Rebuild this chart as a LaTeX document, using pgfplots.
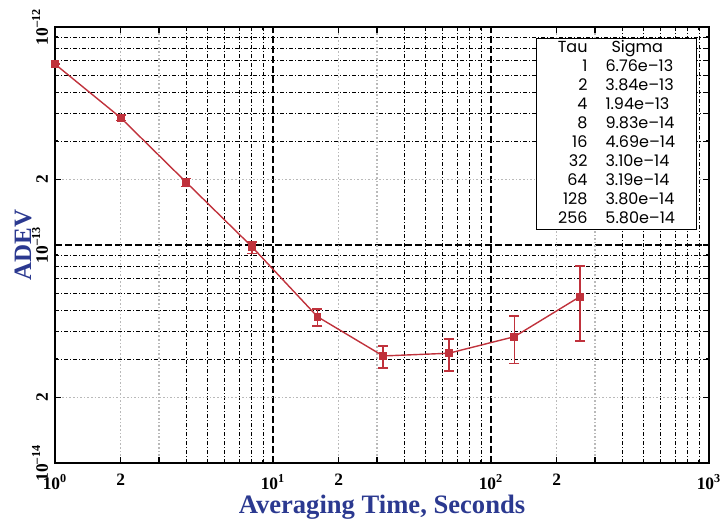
\documentclass[border=0pt]{standalone}
\usepackage{fontspec}
\setmainfont{Liberation Serif}
\newfontfamily\tabfont{Poppins}
\usepackage{pgfplots}
\usepackage{pgfplotstable}
\pgfplotsset{compat=1.18}
\definecolor{adevred}{HTML}{C0323C}
\definecolor{labblue}{HTML}{2B3990}

% tau, sigma, error up, error down
\pgfplotstableread{
tau  sigma     ep        em
1    6.76e-13  0.04e-13  0.04e-13
2    3.84e-13  0.12e-13  0.12e-13
4    1.94e-13  0.08e-13  0.08e-13
8    9.83e-14  0.53e-14  0.70e-14
16   4.69e-14  0.41e-14  0.43e-14
32   3.10e-14  0.34e-14  0.37e-14
64   3.19e-14  0.51e-14  0.55e-14
128  3.80e-14  0.94e-14  0.94e-14
256  5.80e-14  2.24e-14  2.16e-14
}\adev

\begin{document}
\begin{tikzpicture}
\begin{axis}[
  xmode=log, ymode=log,
  scale only axis, width=327pt, height=218pt,
  xmin=1, xmax=1000, ymin=1e-14, ymax=1e-12,
  axis line style={black, line width=0.9pt},
  xtick={1,10,100,1000},
  xticklabels={\textbf{10\textsuperscript{0}},\textbf{10\textsuperscript{1}},\textbf{10\textsuperscript{2}},\textbf{10\textsuperscript{3}}},
  ytick={1e-14,1e-13,1e-12},
  yticklabels={\textbf{10\textsuperscript{–14}},\textbf{10\textsuperscript{–13}},\textbf{10\textsuperscript{–12}}},
  minor xtick={4,5,6,7,8,9,40,50,60,70,80,90,400,500,600,700,800,900},
  minor ytick={3e-14,4e-14,5e-14,6e-14,7e-14,8e-14,9e-14,3e-13,4e-13,5e-13,6e-13,7e-13,8e-13,9e-13},
  extra x ticks={2,3,20,30,200,300},
  extra x tick labels={\textbf{2},,\textbf{2},,\textbf{2},},
  extra y ticks={2e-14,2e-13},
  extra y tick labels={\textbf{2},\textbf{2}},
  extra x tick style={grid=major, major grid style={gray!55, densely dotted, line width=0.7pt}},
  extra y tick style={grid=major, major grid style={gray!55, densely dotted, line width=0.7pt}},
  grid=both,
  major grid style={black, line width=0.8pt, dash pattern=on 3.5pt off 1.5pt},
  minor grid style={black, line width=0.5pt, dash pattern=on 2pt off 1pt on 0.5pt off 1pt},
  tick style={black, line width=0.6pt},
  major tick length=3pt, minor tick length=1.5pt,
  tick label style={font=\fontsize{8.7}{10}\selectfont},
  xticklabel style={yshift=-2pt},
  yticklabel style={rotate=90, anchor=south},
  xlabel={\textbf{Averaging Time, Seconds}},
  ylabel={\textbf{ADEV}},
  xlabel style={font=\fontsize{13.3}{15}\selectfont, text=labblue, at={(axis description cs:0.5,0)}, anchor=base, yshift=-25pt},
  ylabel style={font=\fontsize{12.5}{14}\selectfont, text=labblue, at={(axis description cs:-0.049,0.5)}, anchor=center},
]
\addplot[adevred, line width=0.7pt, mark=square*, mark size=1.6pt,
  error bars/.cd, y dir=both, y explicit,
  error bar style={adevred, line width=0.8pt},
  error mark options={adevred, rotate=90, mark size=2.5pt, line width=0.8pt}]
  table[x=tau, y=sigma, y error plus=ep, y error minus=em] {\adev};
\node[draw=black, line width=0.6pt, fill=white, anchor=north east, inner sep=0pt,
  minimum width=80pt, minimum height=95.5pt]
  at (rel axis cs:0.9817,0.975) {%
  \tabfont\fontsize{8}{9.5}\selectfont
  \begin{tabular}{@{}r@{\hspace{9pt}}l@{}}
  Tau & \hspace{3pt}Sigma\\
  1 & 6.76e–13\\
  2 & 3.84e–13\\
  4 & 1.94e–13\\
  8 & 9.83e–14\\
  16 & 4.69e–14\\
  32 & 3.10e–14\\
  64 & 3.19e–14\\
  128 & 3.80e–14\\
  256 & 5.80e–14
  \end{tabular}};
\coordinate (bl) at (rel axis cs:0,0);
\coordinate (tr) at (rel axis cs:1,1);
\end{axis}
\pgfresetboundingbox
\path[use as bounding box] ([xshift=-27.5pt, yshift=-30pt]bl) rectangle ([xshift=6.5pt, yshift=13.5pt]tr);
\end{tikzpicture}
\end{document}
